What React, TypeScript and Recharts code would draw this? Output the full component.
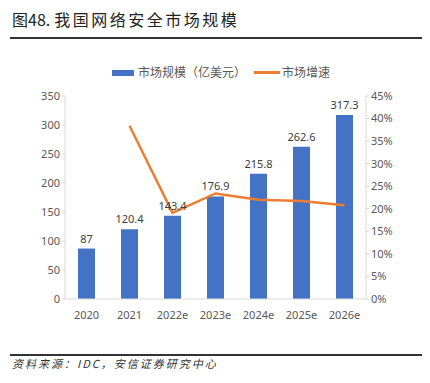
import React from "react";
import { ComposedChart, Bar, Line, XAxis, YAxis, LabelList } from "recharts";

const categories = ["2020", "2021", "2022e", "2023e", "2024e", "2025e", "2026e"];
const marketSize = [87, 120.4, 143.4, 176.9, 215.8, 262.6, 317.3];
const growth = [null, 0.384, 0.191, 0.234, 0.22, 0.217, 0.208];
const leftTicks = [0, 50, 100, 150, 200, 250, 300, 350];
const rightTicks = [0, 0.05, 0.1, 0.15, 0.2, 0.25, 0.3, 0.35, 0.4, 0.45];

const data = categories.map((c, i) => ({ name: c, size: marketSize[i], growth: growth[i] }));

const CJK = '"Noto Sans CJK SC", "Noto Sans", sans-serif';
const tickStyle = { fill: "#595959", fontSize: 11, fontFamily: '"Noto Sans", "Liberation Sans", sans-serif' };

export default function App() {
  return (
    <div style={{ position: "absolute", left: 0, top: 0, width: 430, height: 383, background: "#fff", fontFamily: CJK }}>
      <div style={{ position: "absolute", left: 12, top: 8, fontSize: 16, color: "#222", fontWeight: 400, lineHeight: "22px", whiteSpace: "nowrap" }}>
        <span>图48.</span>
        <span style={{ letterSpacing: 2.5, marginLeft: 4 }}>我国网络安全市场规模</span>
      </div>
      <div style={{ position: "absolute", left: 10, top: 37, width: 412, height: 2, background: "#333" }} />
      <div style={{ position: "absolute", left: 112, top: 70, width: 22, height: 6, background: "#4472C4" }} />
      <div style={{ position: "absolute", left: 138, top: 64, fontSize: 12, color: "#595959", lineHeight: "16px", whiteSpace: "nowrap" }}>市场规模（亿美元）</div>
      <div style={{ position: "absolute", left: 254, top: 71, width: 26, height: 3, background: "#ED7D31" }} />
      <div style={{ position: "absolute", left: 282, top: 64, fontSize: 12, color: "#595959", lineHeight: "16px", whiteSpace: "nowrap" }}>市场增速</div>
      <ComposedChart
        width={430}
        height={383}
        data={data}
        margin={{ top: 96, bottom: 54, left: 25, right: 19 }}
        barCategoryGap={13}
      >
        <XAxis
          dataKey="name"
          tick={tickStyle}
          tickLine={false}
          axisLine={{ stroke: "#D9D9D9" }}
          tickMargin={6}
          height={30}
        />
        <YAxis
          yAxisId="left"
          width={40}
          domain={[0, 350]}
          ticks={leftTicks}
          tick={tickStyle}
          tickLine={{ stroke: "#D9D9D9" }}
          tickSize={3}
          axisLine={{ stroke: "#D9D9D9" }}
          interval={0}
        />
        <YAxis
          yAxisId="right"
          orientation="right"
          width={45}
          domain={[0, 0.45]}
          ticks={rightTicks}
          tickFormatter={(v: number) => `${Math.round(v * 100)}%`}
          tick={tickStyle}
          tickLine={{ stroke: "#D9D9D9" }}
          tickSize={3}
          axisLine={{ stroke: "#D9D9D9" }}
          interval={0}
        />
        <Bar yAxisId="left" dataKey="size" fill="#4472C4" barSize={17} isAnimationActive={false}>
          <LabelList dataKey="size" position="top" offset={6} style={{ fill: "#404040", fontSize: 11, fontFamily: '"Noto Sans", sans-serif' }} />
        </Bar>
        <Line
          yAxisId="right"
          dataKey="growth"
          stroke="#ED7D31"
          strokeWidth={2.5}
          dot={false}
          activeDot={false}
          isAnimationActive={false}
        />
      </ComposedChart>
      <div style={{ position: "absolute", left: 10, top: 354, width: 412, height: 2, background: "#333" }} />
      <div style={{ position: "absolute", left: 12, top: 355, fontSize: 11, fontStyle: "italic", color: "#333", lineHeight: "16px", whiteSpace: "nowrap", letterSpacing: 2 }}>
        资料来源：IDC，安信证券研究中心
      </div>
    </div>
  );
}
